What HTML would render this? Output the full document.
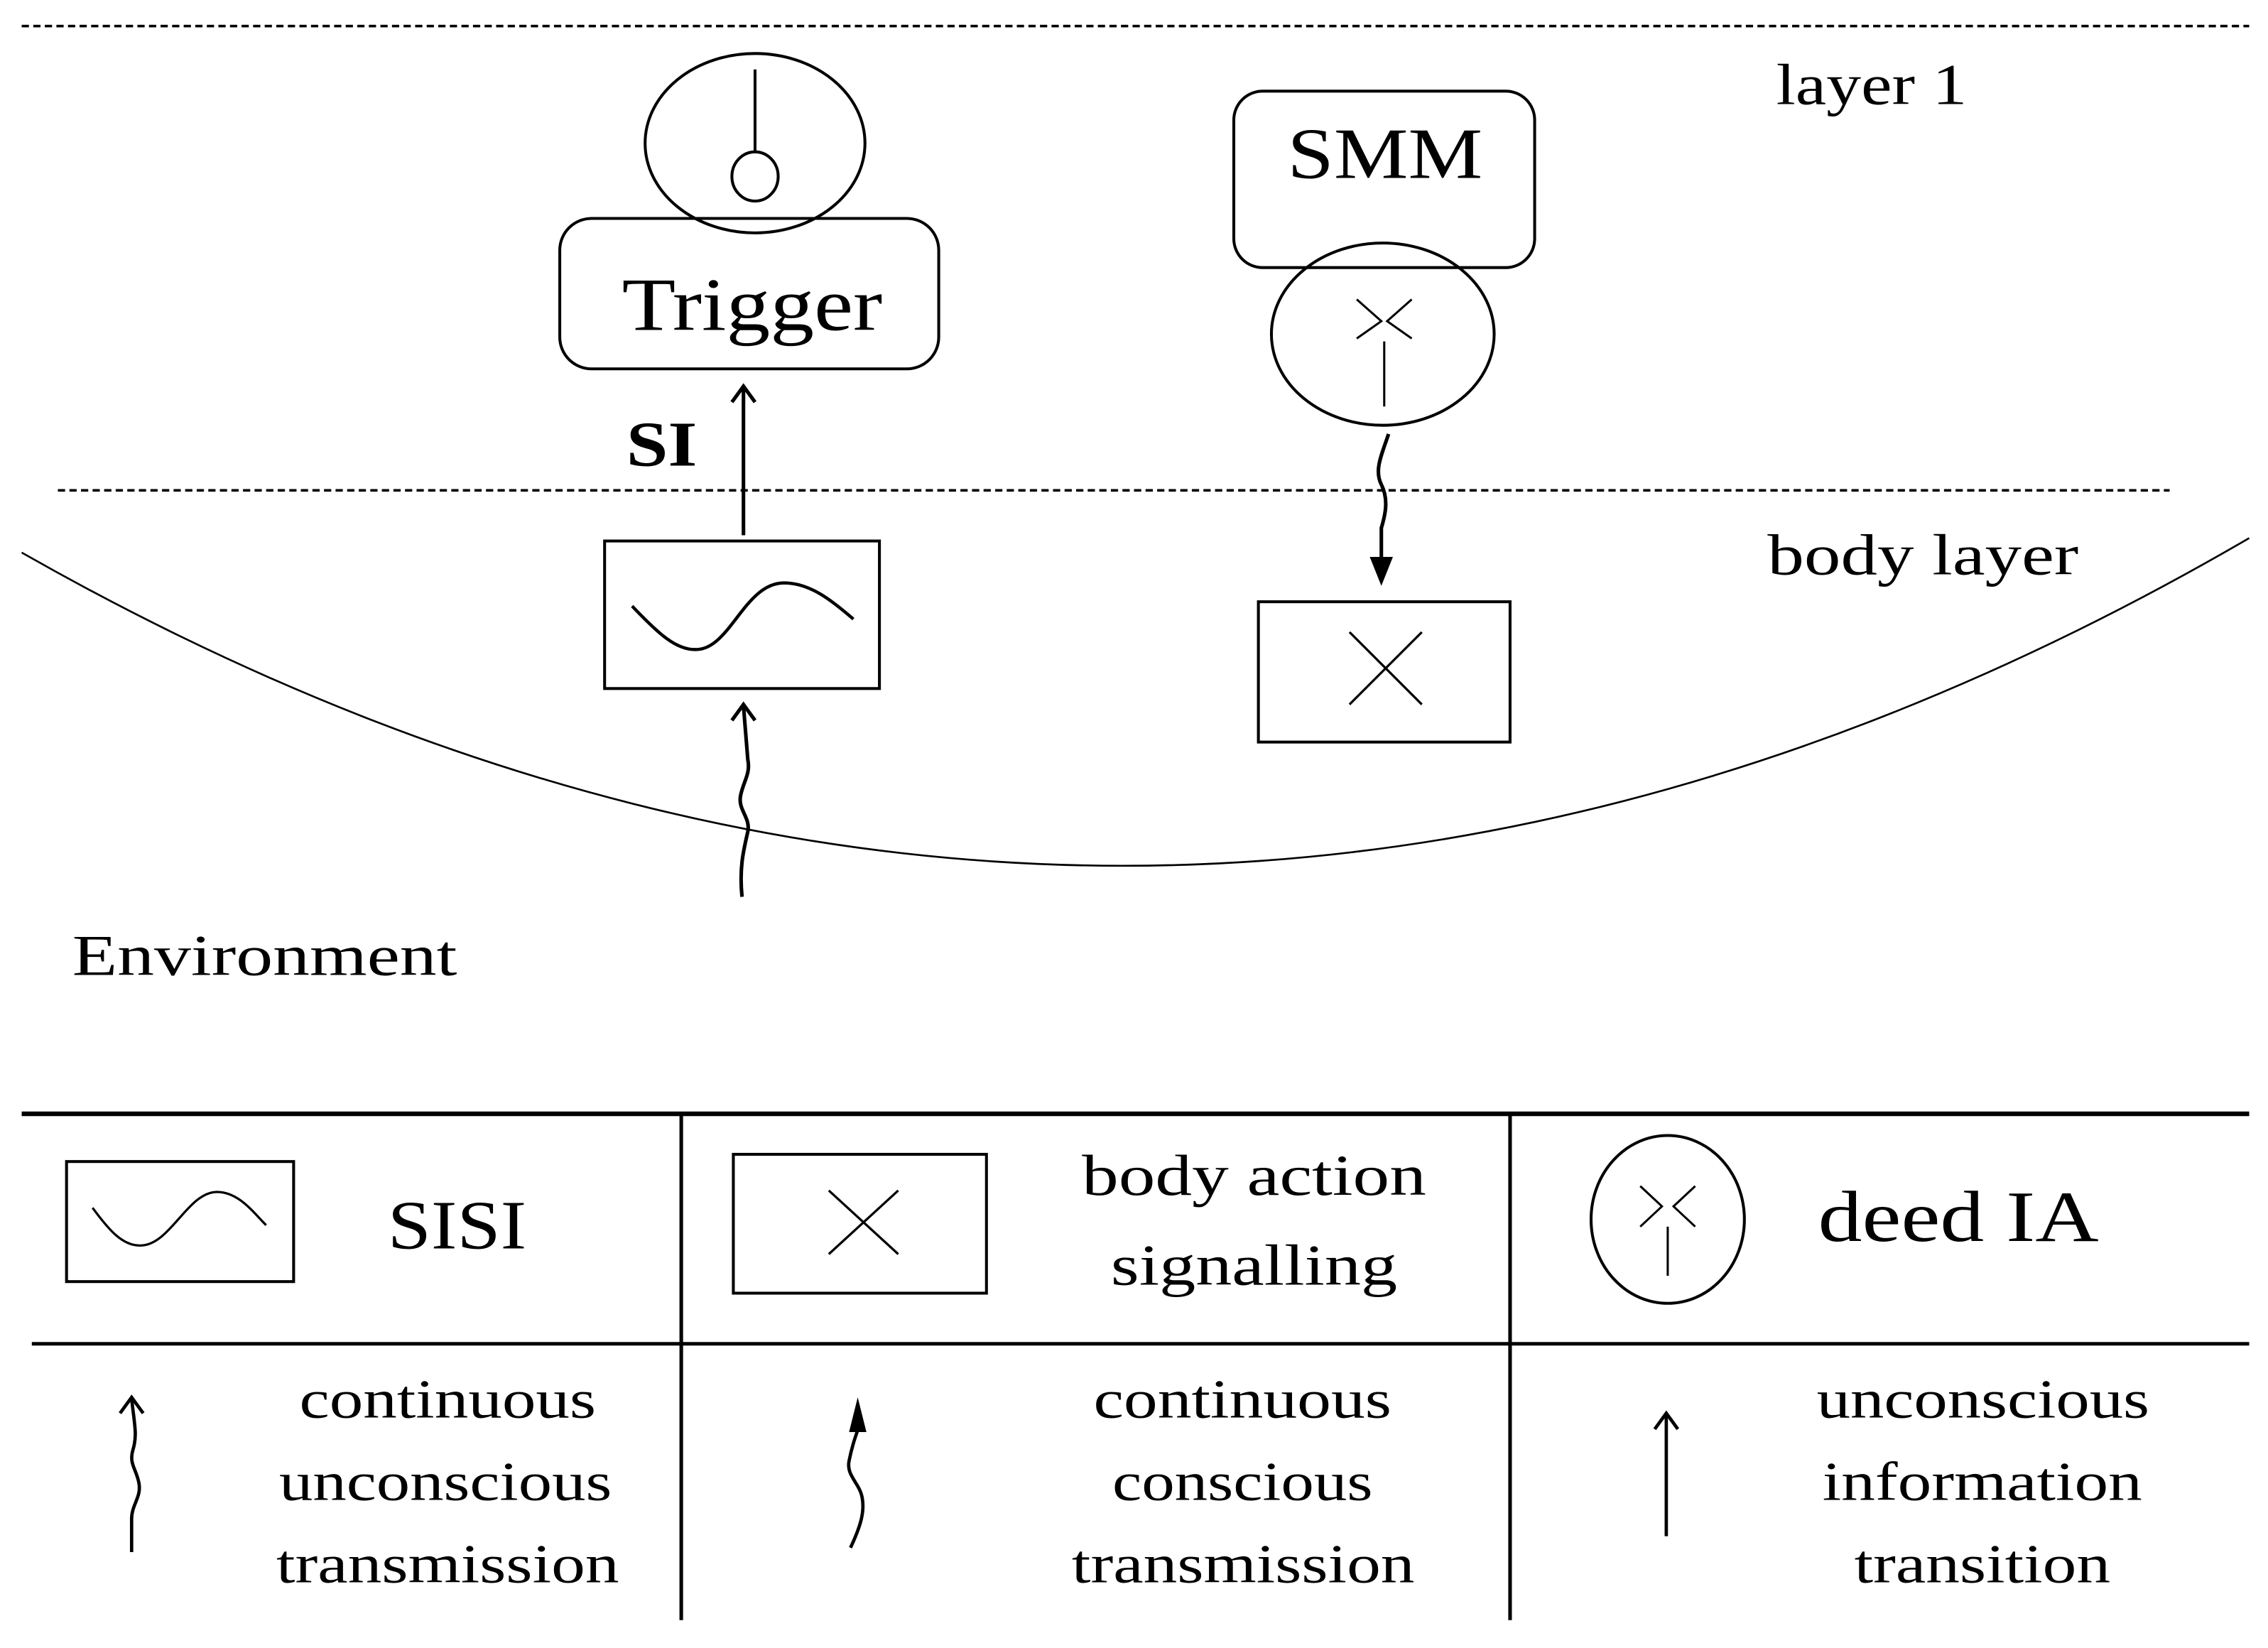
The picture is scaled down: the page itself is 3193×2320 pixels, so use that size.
<!DOCTYPE html>
<html><head><meta charset="utf-8"><style>html,body{margin:0;padding:0;background:#fff}svg{display:block}</style></head>
<body>
<svg width="3193" height="2320" viewBox="0 0 1568 1139.3" preserveAspectRatio="none" xmlns="http://www.w3.org/2000/svg" font-family="Liberation Serif, serif" fill="none" stroke="#000">
<line x1="15" y1="18" x2="1555" y2="18" stroke-width="1.8" stroke-dasharray="5,3"/>
<line x1="40" y1="339" x2="1500" y2="339" stroke-width="1.8" stroke-dasharray="5,3"/>
<path d="M15,382 Q785,820 1555,372" stroke-width="1.3"/>
<g fill="#000" stroke="none" font-size="40">
<text x="1228" y="72" textLength="132" lengthAdjust="spacingAndGlyphs">layer 1</text>
<text x="1222" y="397" textLength="215" lengthAdjust="spacingAndGlyphs">body layer</text>
<text x="50" y="674" textLength="266" lengthAdjust="spacingAndGlyphs">Environment</text>
<text x="430" y="228" font-size="52" textLength="180" lengthAdjust="spacingAndGlyphs">Trigger</text>
<text x="890" y="123" font-size="50" textLength="135" lengthAdjust="spacingAndGlyphs">SMM</text>
<text x="433" y="322" font-size="44" font-weight="bold" textLength="49" lengthAdjust="spacingAndGlyphs">SI</text>
</g>
<!-- trigger -->
<ellipse cx="522" cy="99" rx="76" ry="62" stroke-width="2"/>
<line x1="522" y1="48" x2="522" y2="105" stroke-width="2"/>
<ellipse cx="522" cy="122" rx="16" ry="17" stroke-width="2"/>
<rect x="387" y="151" width="262" height="104" rx="22" stroke-width="2"/>
<line x1="514" y1="370" x2="514" y2="268" stroke-width="2.5"/>
<path d="M506,278 L514,267 L522,278" stroke-width="2.5"/>
<!-- SISI -->
<rect x="418" y="374" width="190" height="102" stroke-width="2"/>
<path d="M437,419 C455,438 468,450 482,449 C505,448 515,403 542,403 C560,403 575,415 590,428" stroke-width="2.2"/>
<path d="M513,620 C511,600 514,588 517,575 C519,565 510,560 512,550 C514,540 519,535 517,525 L514,488" stroke-width="2.5"/>
<path d="M506,498 L514,487 L522,498" stroke-width="2.5"/>
<!-- SMM -->
<rect x="853" y="63" width="208" height="122" rx="20" stroke-width="2"/>
<ellipse cx="956" cy="231" rx="77" ry="63" stroke-width="2"/>
<path d="M938,207 L955,222 L938,234 M976,207 L959,222 L976,234 M957,236 L957,281" stroke-width="1.5"/>
<path d="M960,300 C955,315 950,325 955,335 C960,345 958,355 955,365 L955,388" stroke-width="2.5"/>
<path d="M947,385 L963,385 L955,405 Z" fill="#000" stroke="none"/>
<rect x="870" y="416" width="174" height="97" stroke-width="2"/>
<path d="M933,437 L983,487 M983,437 L933,487" stroke-width="1.6"/>
<!-- legend -->
<line x1="15" y1="770" x2="1555" y2="770" stroke-width="3.2"/>
<line x1="22" y1="929" x2="1555" y2="929" stroke-width="2.5"/>
<line x1="471" y1="770" x2="471" y2="1120" stroke-width="2.5"/>
<line x1="1044" y1="770" x2="1044" y2="1120" stroke-width="2.5"/>
<rect x="46" y="803" width="157" height="83" stroke-width="2"/>
<path d="M64,835 C75,850 85,862 98,861 C118,860 130,824 150,824 C165,824 175,838 184,847" stroke-width="1.6"/>
<rect x="507" y="798" width="175" height="96" stroke-width="2"/>
<path d="M573,823 L621,867 M621,823 L573,867" stroke-width="1.6"/>
<ellipse cx="1153" cy="843" rx="53" ry="58" stroke-width="2"/>
<path d="M1134,820 L1149,834 L1134,848 M1172,820 L1157,834 L1172,848 M1153,848 L1153,882" stroke-width="1.5"/>
<path d="M91,1073 L91,1050 C91,1040 98,1035 96,1025 C94,1015 89,1012 92,1002 C95,992 93,985 91,967" stroke-width="2.3"/>
<path d="M83,977 L91,966 L99,977" stroke-width="2.3"/>
<path d="M588,1070 C595,1055 598,1045 596,1035 C594,1025 585,1020 587,1010 C590,995 593,990 593,988" stroke-width="2.3"/>
<path d="M587,990 L599,990 L593,966 Z" fill="#000" stroke="none"/>
<line x1="1152" y1="1062" x2="1152" y2="978" stroke-width="2.3"/>
<path d="M1144,988 L1152,977 L1160,988" stroke-width="2.3"/>
<g fill="#000" stroke="none">
<text x="268" y="863" font-size="48" textLength="96" lengthAdjust="spacingAndGlyphs">SISI</text>
<text x="748" y="826" font-size="40" textLength="238" lengthAdjust="spacingAndGlyphs">body action</text>
<text x="768" y="888" font-size="40" textLength="198" lengthAdjust="spacingAndGlyphs">signalling</text>
<text x="1257" y="858" font-size="50" textLength="194" lengthAdjust="spacingAndGlyphs">deed IA</text>
<g font-size="38" lengthAdjust="spacingAndGlyphs">
<text x="207" y="980" textLength="205" lengthAdjust="spacingAndGlyphs">continuous</text>
<text x="193" y="1037" textLength="230" lengthAdjust="spacingAndGlyphs">unconscious</text>
<text x="191" y="1094" textLength="237" lengthAdjust="spacingAndGlyphs">transmission</text>
<text x="756" y="980" textLength="206" lengthAdjust="spacingAndGlyphs">continuous</text>
<text x="769" y="1037" textLength="180" lengthAdjust="spacingAndGlyphs">conscious</text>
<text x="741" y="1094" textLength="237" lengthAdjust="spacingAndGlyphs">transmission</text>
<text x="1256" y="980" textLength="230" lengthAdjust="spacingAndGlyphs">unconscious</text>
<text x="1260" y="1037" textLength="221" lengthAdjust="spacingAndGlyphs">information</text>
<text x="1282" y="1094" textLength="177" lengthAdjust="spacingAndGlyphs">transition</text>
</g>
</g>
</svg>
</body></html>
